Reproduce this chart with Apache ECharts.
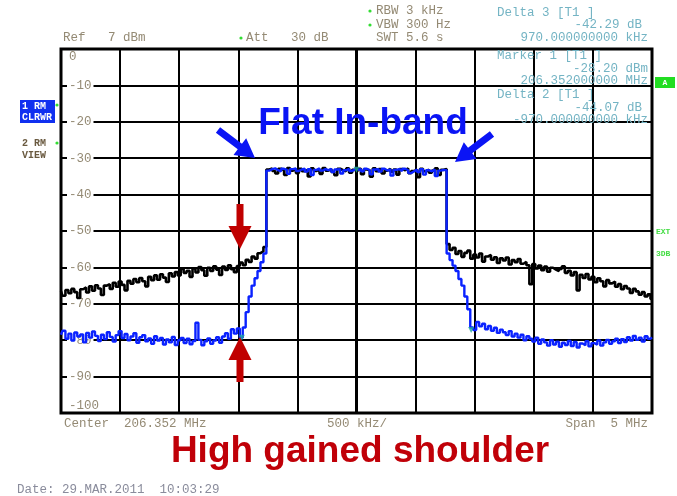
<!DOCTYPE html>
<html><head><meta charset="utf-8">
<script src="https://cdn.jsdelivr.net/npm/echarts@6/dist/echarts.min.js"></script>
<style>html,body{margin:0;padding:0;background:#fff;}#c{width:677px;height:496px;}</style>
</head><body><div id="c"></div>
<script>
// ---- axis definitions ----
const yTickValues = [0,-10,-20,-30,-40,-50,-60,-70,-80,-90,-100];
const yTickLabels = ['0','-10','-20','-30','-40','-50','-60','-70','-80','-90','-100'];
const sweepStartKHz = -2500;
const sweepStepKHz = 25;
const spanMinKHz = -2500, spanMaxKHz = 2500, divKHz = 500;

// ---- trace 2 (black, VIEW) : 201 sweep points ----
const trace2Black = [
 -66.5,-67.8,-66.2,-67.1,-65.9,-66.8,-68.4,-66.0,-65.5,-66.9,
 -65.2,-66.4,-64.9,-65.8,-67.6,-65.0,-64.6,-65.9,-64.2,-65.3,
 -63.9,-64.8,-66.3,-63.7,-64.5,-63.2,-64.1,-62.9,-63.8,-65.2,
 -62.6,-63.5,-62.2,-63.4,-61.9,-62.8,-64.0,-61.6,-62.5,-61.3,
 -62.2,-60.4,-61.5,-60.9,-62.6,-60.3,-61.4,-59.9,-60.8,-62.3,
 -60.1,-61.0,-59.7,-60.6,-62.1,-59.8,-60.7,-59.4,-60.5,-61.3,
 -59.6,-58.7,-59.4,-57.9,-58.5,-57.0,-57.6,-56.1,-55.6,-54.4,
 -33.1,-32.8,-33.5,-34.2,-32.9,-33.3,-34.6,-32.7,-33.4,-33.0,
 -34.1,-32.9,-33.6,-33.2,-35.0,-32.8,-33.5,-33.1,-34.3,-32.7,
 -33.4,-33.0,-33.8,-34.7,-32.9,-33.3,-33.6,-32.8,-34.0,-33.2,
 -33.5,-32.9,-34.4,-33.1,-33.3,-35.1,-32.8,-33.6,-33.0,-34.2,
 -33.4,-32.9,-33.7,-33.1,-34.5,-33.0,-33.3,-32.8,-34.1,-33.5,
 -33.2,-35.2,-32.9,-33.6,-33.1,-34.0,-33.4,-32.8,-34.6,-33.2,
 -33.0,
 -53.6,-55.2,-54.6,-56.3,-55.5,-57.1,-56.0,-55.4,-57.6,-56.5,
 -57.3,-56.2,-58.4,-57.0,-56.6,-57.9,-57.2,-58.8,-57.5,-58.1,
 -57.3,-59.2,-58.0,-58.6,-57.7,-59.0,-58.5,-59.4,-64.6,-59.1,
 -60.3,-59.5,-60.8,-59.8,-61.2,-60.1,-60.6,-61.0,-60.4,-59.7,
 -61.5,-60.9,-62.2,-61.3,-66.3,-62.0,-62.9,-61.8,-63.3,-62.6,
 -64.1,-63.0,-63.8,-65.2,-63.5,-64.4,-63.9,-65.3,-64.6,-66.0,
 -65.1,-65.8,-67.0,-65.9,-66.6,-67.5,-66.8,-68.0,-67.4,-68.7
];

// ---- trace 1 (blue, CLRWR) : 201 sweep points ----
const trace1Blue = [
 -78.5,-77.4,-79.6,-78.2,-80.1,-77.9,-79.0,-78.4,-80.6,-78.0,
 -79.3,-77.6,-78.8,-80.2,-78.5,-79.7,-77.8,-79.1,-80.4,-78.6,
 -77.5,-79.4,-78.3,-80.0,-79.0,-78.1,-80.7,-79.2,-78.6,-80.3,
 -79.5,-81.0,-78.9,-80.1,-79.4,-81.2,-79.8,-80.6,-79.1,-81.3,
 -80.0,-79.4,-80.8,-79.6,-81.1,-80.2,-75.2,-79.9,-81.4,-80.3,
 -79.5,-81.0,-80.1,-79.2,-80.7,-79.0,-78.1,-79.6,-77.0,-78.2,
 -76.8,-79.3,-76.5,-72.3,-68.0,-65.0,-63.0,-61.0,-58.6,-56.2,
 -33.4,-33.0,-32.8,-33.3,-33.6,-32.9,-33.2,-34.3,-33.0,-32.8,
 -33.5,-33.1,-32.9,-33.7,-33.0,-34.6,-33.2,-32.8,-33.4,-33.0,
 -33.3,-32.9,-33.8,-33.1,-33.0,-34.2,-33.3,-32.9,-33.5,-33.1,
 -33.2,-33.0,-33.6,-32.9,-33.3,-34.4,-33.1,-33.0,-33.7,-32.9,
 -33.4,-33.1,-34.8,-33.2,-33.0,-33.5,-32.9,-33.3,-34.1,-33.6,
 -33.1,-33.8,-33.0,-34.5,-33.3,-33.6,-33.1,-34.9,-33.4,-33.2,
 -33.3,
 -56.2,-58.0,-59.5,-61.0,-63.2,-65.0,-68.0,-71.5,-76.5,-77.2,
 -75.0,-76.2,-75.5,-77.0,-76.1,-77.4,-76.6,-78.0,-77.1,-77.8,
 -78.6,-77.5,-79.0,-78.2,-79.3,-78.5,-80.0,-78.9,-79.6,-80.4,
 -79.3,-81.0,-79.8,-80.6,-81.5,-80.0,-81.2,-80.4,-81.8,-80.7,
 -81.3,-80.2,-81.6,-80.5,-82.0,-80.9,-81.4,-80.3,-81.7,-80.8,
 -81.2,-80.1,-81.5,-80.6,-79.9,-81.0,-80.3,-79.6,-80.8,-79.7,
 -80.5,-79.2,-80.1,-78.8,-79.9,-79.3,-80.4,-78.9,-79.6,-79.2
];

// ---- markers (Delta 2, Marker 1, Delta 3) ----
const markerFreqKHz = [-970, 0, 970];
const markerLevelDb = [-79.3, -33.2, -77.2];

// ---- texts ----
const headerLeft = ['Ref   7 dBm', 'Att   30 dB'];
const headerMid = ['RBW 3 kHz', 'VBW 300 Hz', 'SWT 5.6 s'];
const markerTitles = ['Delta 3 [T1 ]', 'Marker 1 [T1 ]', 'Delta 2 [T1 ]'];
const markerValues = ['-42.29 dB', '-28.20 dBm', '-44.07 dB'];
const markerPositions = ['970.000000000 kHz', '206.352000000 MHz', '-970.000000000 kHz'];
const footer = ['Center  206.352 MHz', '500 kHz/', 'Span  5 MHz'];
const dateText = 'Date: 29.MAR.2011  10:03:29';
const noteTop = 'Flat In-band';
const noteBottom = 'High gained shoulder';

const chart = echarts.init(document.getElementById('c'));
const toPairs = arr => arr.map((v, i) => [sweepStartKHz + i * sweepStepKHz, v]);
const MONO = '12.5px "Liberation Mono", monospace';
const TAN = '#948a74';
const TEAL = '#74b4c4';

function arrow(tail, tip, sw, hl, hw) {
  const dx = tip[0]-tail[0], dy = tip[1]-tail[1], L = Math.hypot(dx, dy);
  const ux = dx/L, uy = dy/L, px = -uy, py = ux;
  const bx = tip[0]-ux*hl, by = tip[1]-uy*hl;
  return [[tail[0]+px*sw/2, tail[1]+py*sw/2],[bx+px*sw/2, by+py*sw/2],[bx+px*hw/2, by+py*hw/2],
          tip,[bx-px*hw/2, by-py*hw/2],[bx-px*sw/2, by-py*sw/2],[tail[0]-px*sw/2, tail[1]-py*sw/2]];
}
function txt(text, x, y, opts, z) {
  return {type:'text', z: (z === undefined ? 50 : z), style:Object.assign({text, x, y, font:MONO, fill:TAN, verticalAlign:'middle', align:'left'}, opts||{})};
}

chart.setOption({
  animation: false,
  grid: {left:61, right:25, top:49, bottom:83, show:true, borderColor:'#000', borderWidth:3, backgroundColor:'rgba(0,0,0,0)'},
  xAxis: {type:'value', min:spanMinKHz, max:spanMaxKHz, interval:divKHz,
    axisLine:{show:false}, axisTick:{show:false}, axisLabel:{show:false},
    splitLine:{show:true, lineStyle:{color:'#000', width:2}}},
  yAxis: {type:'value', min:-100, max:0, interval:10,
    axisLine:{show:false}, axisTick:{show:false}, axisLabel:{show:false},
    splitLine:{show:true, lineStyle:{color:'#000', width:2}}},
  series: [
    {type:'line', data:toPairs(trace2Black), symbol:'none', z:3, step:'middle',
     lineStyle:{color:'#000', width:2.6},
     markLine:{silent:true, symbol:'none', label:{show:false}, animation:false,
       lineStyle:{color:'#000', width:3, type:'solid'}, data:[{xAxis:0}]}},
    {type:'line', data:toPairs(trace1Blue), symbol:'none', z:4, step:'middle',
     lineStyle:{color:'#0a22ff', width:2.4}},
    {type:'scatter', data:markerFreqKHz.map((f,i)=>[f, markerLevelDb[i]]), z:5,
     symbol:'triangle', symbolRotate:180, symbolSize:6, itemStyle:{color:'#1fa6a0'}}
  ]
});

const g = [];
// y tick labels (below the traces)
yTickValues.forEach((v, i) => {
  let y = chart.convertToPixel({yAxisIndex:0}, v);
  if (i === 0) y += 8; else if (i === yTickValues.length-1) y -= 7;
  g.push(txt(yTickLabels[i], 67, y, {backgroundColor: i===0||i===yTickValues.length-1 ? null : '#fff', padding:[1,2]}, 1));
});
// header
g.push(txt(headerLeft[0], 63, 38));
g.push(txt(headerLeft[1], 246, 38));
g.push(txt(headerMid[0], 376, 11));
g.push(txt(headerMid[1], 376, 25));
g.push(txt(headerMid[2], 376, 38));
[[241,38],[370,11],[370,25],[57,105],[57,143]].forEach(p => g.push({type:'circle', z:50, shape:{cx:p[0], cy:p[1], r:1.6}, style:{fill:'#33dd33'}}));
// marker block
const mRows = [[13,25,38],[56,69,81],[95,108,120]];
const valRight = [642, 648, 642];
markerTitles.forEach((t, i) => {
  g.push(txt(t, 497, mRows[i][0], {fill:TEAL}));
  g.push(txt(markerValues[i], valRight[i], mRows[i][1], {fill:TEAL, align:'right'}));
  g.push(txt(markerPositions[i], 648, mRows[i][2], {fill:TEAL, align:'right'}));
});
// left trace labels
g.push({type:'rect', z:49, shape:{x:20, y:100, width:35, height:23}, style:{fill:'#1030f0'}});
g.push(txt('1 RM', 22, 106, {fill:'#fff', font:'bold 10px "Liberation Mono", monospace'}));
g.push(txt('CLRWR', 22, 117, {fill:'#fff', font:'bold 10px "Liberation Mono", monospace'}));
g.push(txt('2 RM', 22, 143, {fill:'#6a5a40', font:'bold 10px "Liberation Mono", monospace'}));
g.push(txt('VIEW', 22, 155, {fill:'#6a5a40', font:'bold 10px "Liberation Mono", monospace'}));
// right side indicators
g.push({type:'rect', z:49, shape:{x:655, y:77, width:20, height:11}, style:{fill:'#22dd22'}});
g.push(txt('A', 665, 82.5, {fill:'#fff', align:'center', font:'bold 8px "Liberation Mono", monospace'}));
g.push(txt('EXT', 656, 232, {fill:'#44dd44', font:'bold 8px "Liberation Mono", monospace'}));
g.push(txt('3DB', 656, 254, {fill:'#44dd44', font:'bold 8px "Liberation Mono", monospace'}));
// footer
g.push(txt(footer[0], 64, 424));
g.push(txt(footer[1], 327, 424));
g.push(txt(footer[2], 648, 424, {align:'right'}));
g.push(txt(dateText, 17, 490, {fill:'#8a8c9c'}));
// annotations
g.push({type:'polygon', z:60, shape:{points:arrow([218,130],[255,158],7,19,21)}, style:{fill:'#0a14f5'}});
g.push({type:'polygon', z:60, shape:{points:arrow([492,134],[455,162],7,19,21)}, style:{fill:'#0a14f5'}});
g.push({type:'polygon', z:60, shape:{points:arrow([240,204],[240,249],7,23,23)}, style:{fill:'#c00000'}});
g.push({type:'polygon', z:60, shape:{points:arrow([240,382],[240,337],7,23,23)}, style:{fill:'#c00000'}});
g.push({type:'text', z:61, style:{text:noteTop, x:363, y:124, align:'center', verticalAlign:'middle',
  font:'bold 37px "Liberation Sans", Arial, sans-serif', fill:'#0a14f5'}});
g.push({type:'text', z:61, style:{text:noteBottom, x:360, y:452, align:'center', verticalAlign:'middle',
  font:'bold 37px "Liberation Sans", Arial, sans-serif', fill:'#c00008'}});

chart.setOption({graphic: g});
</script>
</body></html>
